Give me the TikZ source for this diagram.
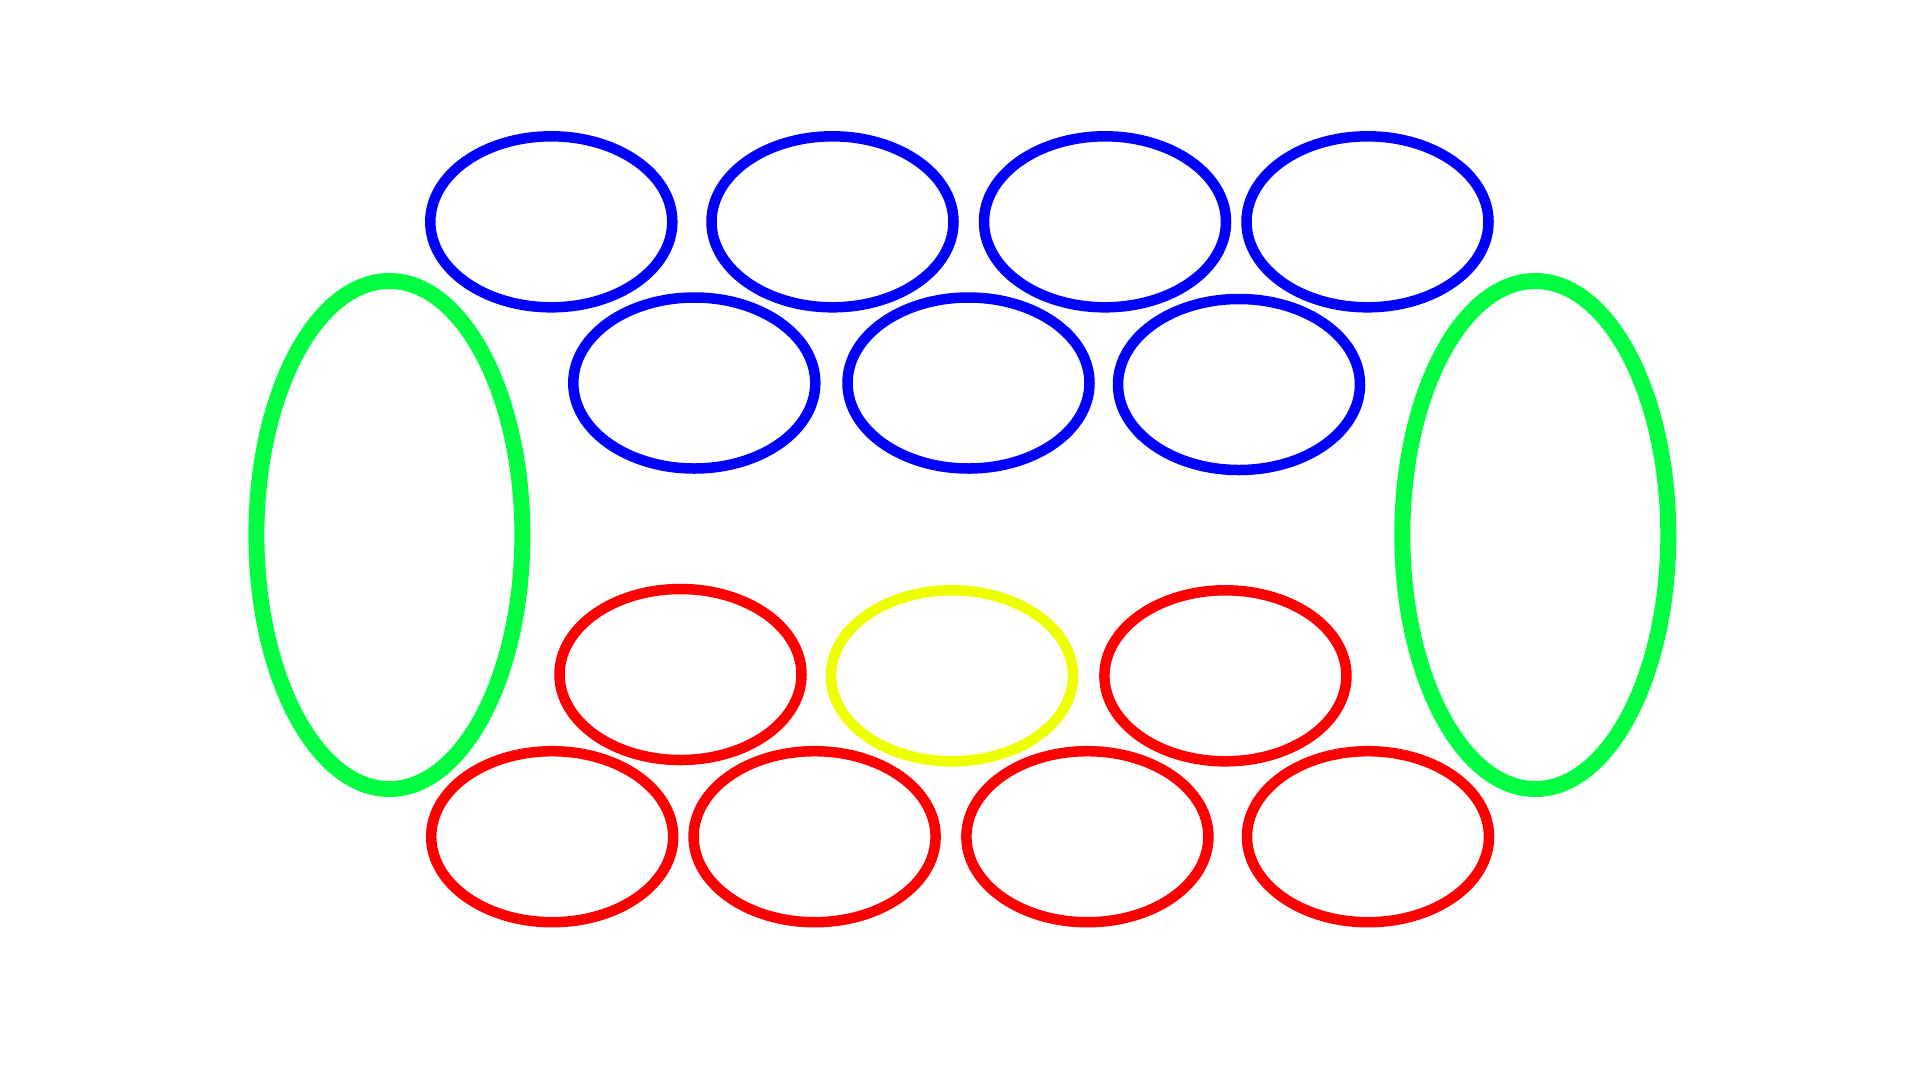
\documentclass[tikz,border=0pt]{standalone}
\definecolor{cblue}{RGB}{0,0,255}
\definecolor{cgreen}{RGB}{0,255,64}
\definecolor{cred}{RGB}{255,0,0}
\definecolor{cyellow}{RGB}{238,255,0}
\tikzset{
  small/.style={line width=10.5pt, x radius=121pt, y radius=85.5pt},
  big/.style={line width=16pt, x radius=133pt, y radius=254pt, draw=cgreen},
}
\begin{document}
\begin{tikzpicture}[x=1pt,y=-1pt]
\useasboundingbox[fill=white] (0,0) rectangle (1920,1080);
% blue top row
\foreach \cx in {551.3,832.5,1105,1367.5}
  \draw[small,draw=cblue] (\cx,221.8) ellipse [];
% blue second row
\draw[small,draw=cblue] (694.3,383) ellipse [];
\draw[small,draw=cblue] (968.5,383) ellipse [];
\draw[small,draw=cblue] (1239,384.5) ellipse [];
% green side ellipses
\draw[big] (389.4,535) ellipse [];
\draw[big] (1535.3,535) ellipse [];
% red / yellow middle row
\draw[small,draw=cred] (680.5,674.5) ellipse [];
\draw[small,draw=cyellow] (952,675.8) ellipse [];
\draw[small,draw=cred] (1225.4,675.8) ellipse [];
% red bottom row
\foreach \cx in {552.2,814.6,1087.4,1368}
  \draw[small,draw=cred] (\cx,836.7) ellipse [];
\end{tikzpicture}
\end{document}
